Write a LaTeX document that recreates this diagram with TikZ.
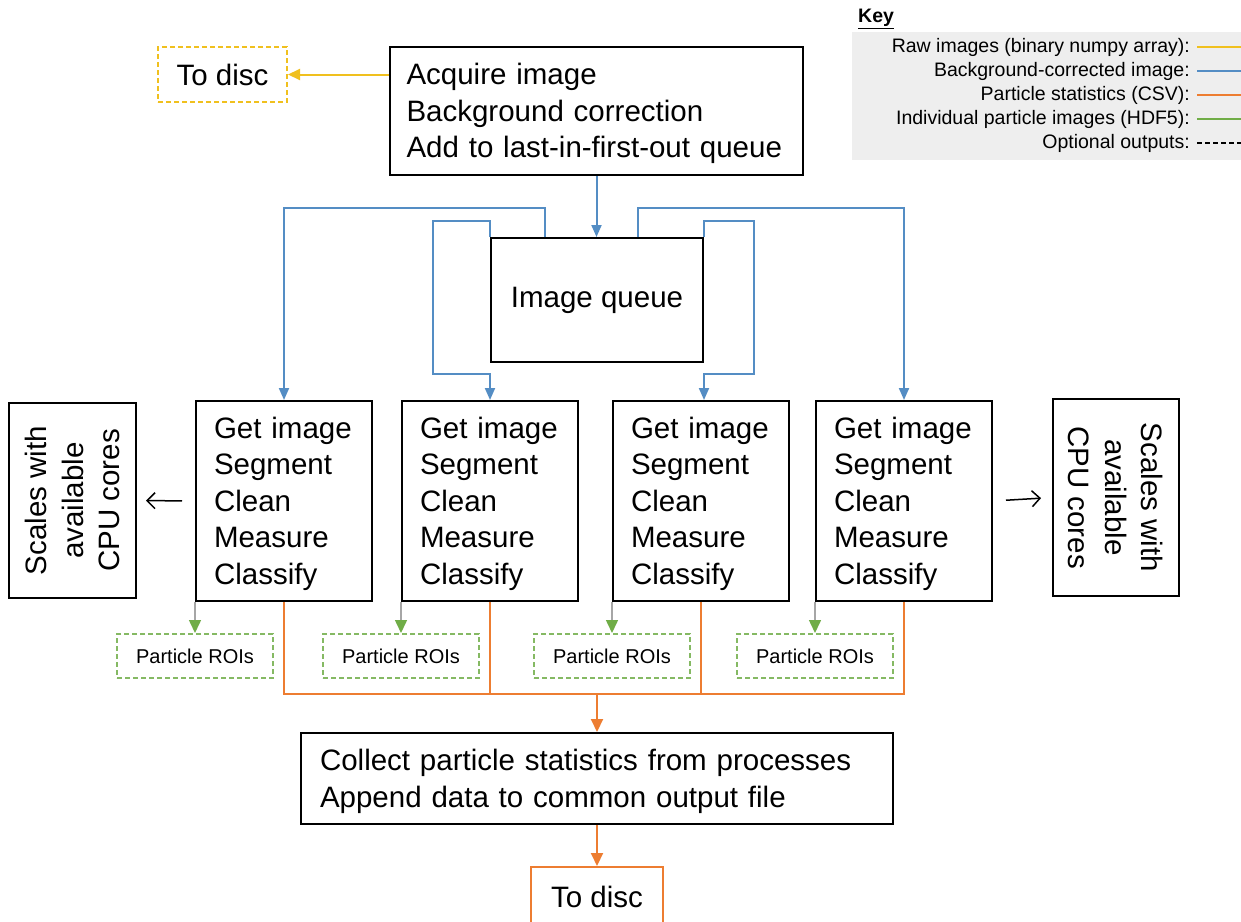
\documentclass[tikz,border=0pt]{standalone}
\usepackage{fontspec}
\setmainfont{Liberation Sans}
\usetikzlibrary{arrows.meta,calc}
\definecolor{cblue}{RGB}{84,141,196}
\definecolor{corange}{RGB}{237,125,49}
\definecolor{cyellow}{RGB}{240,192,30}
\definecolor{cgreen}{RGB}{112,173,71}
\definecolor{keybg}{RGB}{238,238,238}
\newcommand{\firstln}{\rule{0pt}{27pt}}
\begin{document}
\begin{tikzpicture}[x=1pt,y=-1pt,
  big/.style={font=\fontsize{29.5}{36.5}\selectfont},
  box/.style={draw=black, line width=2pt, big, align=left, inner ysep=0pt,
    execute at begin node={\hyphenpenalty=10000\exhyphenpenalty=10000}},
  procbox/.style={box, minimum width=176pt, minimum height=200pt, text width=140pt, inner xsep=18pt},
  scalebox/.style={draw=black, line width=2pt, big, align=center, inner sep=0pt},
  roibox/.style={draw=cgreen!85, line width=2pt, dash pattern=on 5pt off 3pt, minimum width=156pt, minimum height=44pt, inner sep=0pt, font=\fontsize{20}{24}\selectfont},
  keytxt/.style={font=\fontsize{19.5}{23}\selectfont, inner sep=0pt},
  barrow/.style={draw=cblue, line width=2pt, -{Triangle[length=12pt,width=10pt]}},
  oline/.style={draw=corange, line width=2pt},
  oarrow/.style={draw=corange, line width=2pt, -{Triangle[length=13pt,width=12pt]}},
  yarrow/.style={draw=cyellow, line width=2pt, -{Triangle[length=12pt,width=11pt]}},
  garrow/.style={draw=gray!70, line width=1.5pt, -{Triangle[length=13pt,width=12pt,color=cgreen,fill=cgreen]}},
  thinarr/.style={draw=black, line width=1.5pt, -{Straight Barb[length=8pt,width=16pt]}},
  keyline/.style={line width=2pt}
]
\useasboundingbox (0,0) rectangle (1241,921);

% key
\fill[keybg] (852,32) rectangle (1241,160);
\node[keytxt, anchor=west] (keyh) at (858,19) {\underline{\textbf{Key}}};
\coordinate (kr) at (1241,0);
\node[keytxt, anchor=east] (k1) at (1190,47) {Raw images (binary numpy array):};
\node[keytxt, anchor=east] (k2) at (1190,71) {Background-corrected image:};
\node[keytxt, anchor=east] (k3) at (1190,95) {Particle statistics (CSV):};
\node[keytxt, anchor=east] (k4) at (1190,119) {Individual particle images (HDF5):};
\node[keytxt, anchor=east] (k5) at (1190,143) {Optional outputs:};
\draw[keyline, cyellow] ([xshift=7pt]k1.east) -- (k1.east -| kr);
\draw[keyline, cblue] ([xshift=7pt]k2.east) -- (k2.east -| kr);
\draw[keyline, corange] ([xshift=7pt]k3.east) -- (k3.east -| kr);
\draw[keyline, cgreen] ([xshift=7pt]k4.east) -- (k4.east -| kr);
\draw[line width=1.5pt, dash pattern=on 5pt off 3pt] ([xshift=7pt]k5.east) -- (k5.east -| kr);

% top
\node[box, minimum width=413pt, minimum height=128pt, text width=380pt, inner xsep=16.5pt] (acq) at (596.5,111)
  {\firstln Acquire~image\\Background~correction\\Add~to~last-in-first-out~queue};
\node[draw=cyellow, line width=2pt, dash pattern=on 5pt off 3pt, big, minimum width=129pt, minimum height=55pt, inner sep=0pt] (tdisc1) at (222.5,74.5) {To disc};
\node[box, align=center, minimum width=212pt, minimum height=124pt] (queue) at (597,300) {Image queue};

% processes
\node[procbox] (p1) at (284,501) {\firstln Get~image\\Segment\\Clean\\Measure\\Classify};
\node[procbox] (p2) at (490,501) {\firstln Get~image\\Segment\\Clean\\Measure\\Classify};
\node[procbox] (p3) at (701,501) {\firstln Get~image\\Segment\\Clean\\Measure\\Classify};
\node[procbox] (p4) at (904,501) {\firstln Get~image\\Segment\\Clean\\Measure\\Classify};

\node[scalebox, rotate=90, minimum width=195pt, minimum height=127pt] (scl) at (72.5,500.5) {Scales with\\available\\CPU cores};
\node[scalebox, rotate=-90, minimum width=197pt, minimum height=126pt] (scr) at (1116,497.5) {Scales with\\available\\CPU cores};

% ROIs
\node[roibox] (r1) at ($(p1.south west)+(0,54)$) {Particle ROIs};
\node[roibox] (r2) at ($(p2.south west)+(0,54)$) {Particle ROIs};
\node[roibox] (r3) at ($(p3.south west)+(0,54)$) {Particle ROIs};
\node[roibox] (r4) at ($(p4.south west)+(0,54)$) {Particle ROIs};

% bottom
\node[box, minimum width=592pt, minimum height=91pt, text width=554pt, inner xsep=19pt] (coll) at (597,778.5)
  {\firstln Collect~particle~statistics~from~processes\\Append~data~to~common~output~file};
\node[draw=corange, line width=2pt, big, minimum width=132pt, minimum height=60pt, inner sep=0pt] (tdisc2) at (597,897) {To disc};

% helper coordinates
\coordinate (lt) at (0,208);
\coordinate (it) at (0,221);
\coordinate (ib) at (0,374);
\coordinate (l2x) at (433,0);
\coordinate (l3x) at (754,0);
\coordinate (bus) at (597,694);

% connectors
\draw[yarrow] (acq.west |- tdisc1.east) -- (tdisc1.east);
\draw[barrow] (acq.south) -- (acq.south |- queue.north);
\draw[barrow] ([xshift=-52pt]queue.north) |- (lt -| p1.north) -- (p1.north);
\draw[barrow] (queue.north west) |- (it -| l2x) |- (ib -| queue.north west) -- (queue.north west |- p2.north);
\draw[barrow] (queue.north east) |- (it -| l3x) |- (ib -| queue.north east) -- (queue.north east |- p3.north);
\draw[barrow] ([xshift=41pt]queue.north) |- (lt -| p4.north) -- (p4.north);

\draw[garrow] (p1.south west) -- (r1.north);
\draw[garrow] (p2.south west) -- (r2.north);
\draw[garrow] (p3.south west) -- (r3.north);
\draw[garrow] (p4.south west) -- (r4.north);

\draw[oline] (p1.south) |- (bus -| p4.south) -- (p4.south);
\draw[oline] (p2.south) -- (p2.south |- bus);
\draw[oline] (p3.south) -- (p3.south |- bus);
\draw[oarrow] (bus) -- (coll.north);
\draw[oarrow] (coll.south) -- (tdisc2.north);

\draw[thinarr, shorten <=13pt, shorten >=9pt] (p1.west) -- (scl.south);
\draw[thinarr, shorten <=13pt, shorten >=11pt] (p4.east) -- (scr.south);
\end{tikzpicture}
\end{document}
